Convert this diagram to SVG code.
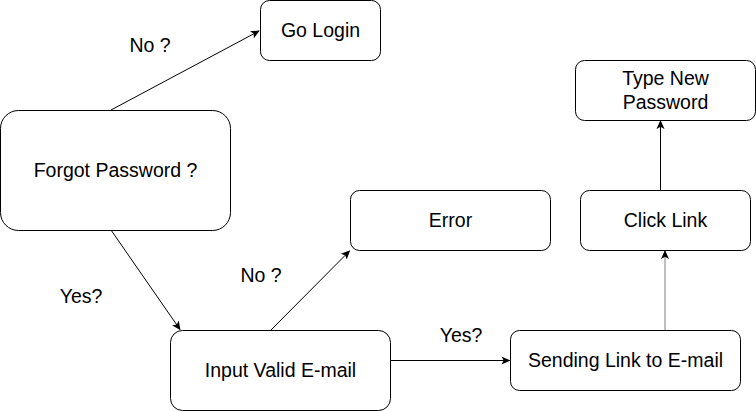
<svg xmlns="http://www.w3.org/2000/svg" width="756" height="411" viewBox="0 0 756 411">
<defs>
<style>
.box{fill:#ffffff;stroke:#000000;stroke-width:1}
.t{font-family:"Liberation Sans",Arial,sans-serif;font-size:19.5px;fill:#000000;text-anchor:middle}
.e{fill:none;stroke:#000000;stroke-width:1}
</style>
<marker id="arr" viewBox="0 0 10 10" refX="9" refY="5" markerWidth="9" markerHeight="9" markerUnits="userSpaceOnUse" orient="auto">
<path d="M0,0.5 L10,5 L0,9.5 L2.5,5 Z" fill="#000000"/>
</marker>
</defs>
<rect width="756" height="411" fill="#ffffff"/>
<g id="connectors">
<path class="e" d="M111,110 L259,31" marker-end="url(#arr)"/>
<path class="e" d="M111,230 L180,329.5" marker-end="url(#arr)"/>
<path class="e" d="M271,330 L349.5,251" marker-end="url(#arr)"/>
<path class="e" d="M390.5,360.5 L509.5,360.5" marker-end="url(#arr)"/>
<path class="e" d="M665,330 L665,251" stroke="#808080" style="stroke:#808080" marker-end="url(#arr)"/>
<path class="e" d="M660.5,190 L660.5,121" marker-end="url(#arr)"/>
<text class="t" x="150" y="52">No ?</text>
<text class="t" x="81" y="303">Yes?</text>
<text class="t" x="261" y="282">No ?</text>
<text class="t" x="461" y="342">Yes?</text>
</g>
<g id="go-login">
<rect class="box" x="260.5" y="0.5" width="120" height="60" rx="9"/>
<text class="t" x="320.5" y="37">Go Login</text>
</g>
<g id="forgot-password">
<rect class="box" x="0.5" y="110.5" width="230" height="120" rx="18"/>
<text class="t" x="115.5" y="177">Forgot Password ?</text>
</g>
<g id="error">
<rect class="box" x="350.5" y="190.5" width="200" height="60" rx="9"/>
<text class="t" x="450.5" y="227">Error</text>
</g>
<g id="input-valid-email">
<rect class="box" x="170.5" y="330.5" width="220" height="80" rx="12"/>
<text class="t" x="280.5" y="377">Input Valid E-mail</text>
</g>
<g id="sending-link">
<rect class="box" x="510.5" y="330.5" width="230" height="60" rx="9"/>
<text class="t" x="625.5" y="367">Sending Link to E-mail</text>
</g>
<g id="click-link">
<rect class="box" x="580.5" y="190.5" width="170" height="60" rx="9"/>
<text class="t" x="665.5" y="227">Click Link</text>
</g>
<g id="type-new-password">
<rect class="box" x="575.5" y="60.5" width="180" height="60" rx="9"/>
<text class="t" x="665.5" y="85">Type New</text>
<text class="t" x="665.5" y="109">Password</text>
</g>
</svg>
